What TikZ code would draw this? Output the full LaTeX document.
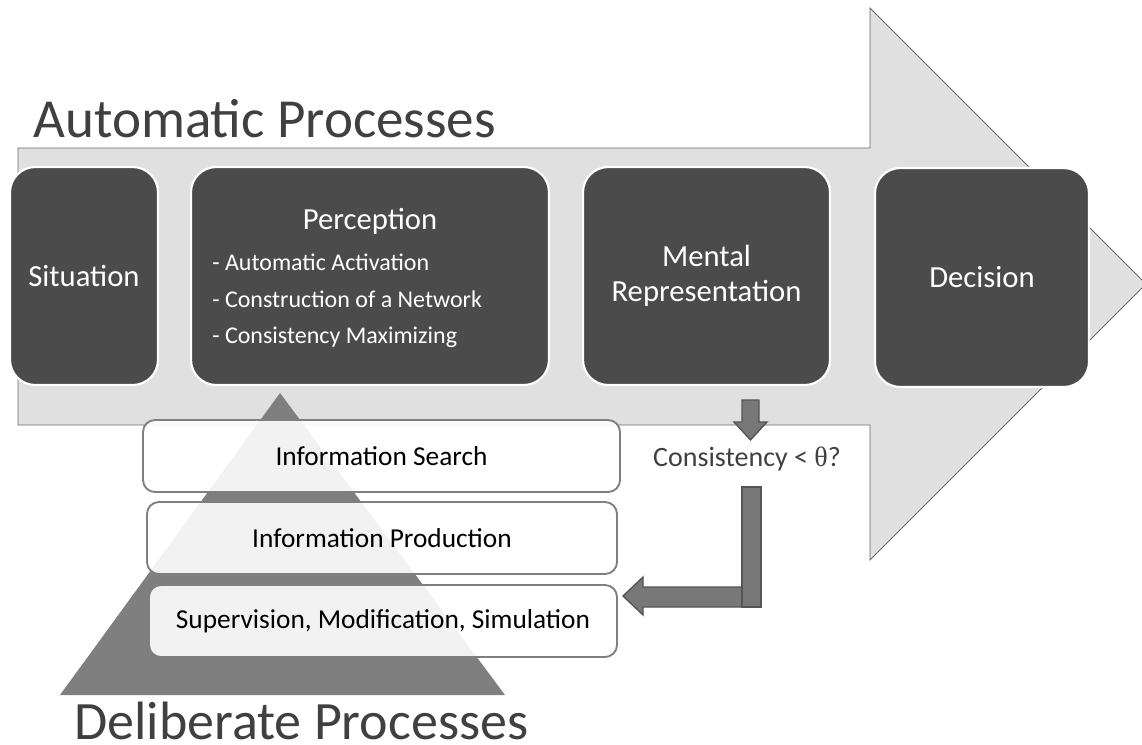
\documentclass[tikz,border=0pt]{standalone}
\usepackage{fontspec}
\setmainfont{Carlito}
\newfontfamily\thetafont{Liberation Serif}
\usetikzlibrary{fit}
\definecolor{boxdark}{HTML}{4B4B4B}
\definecolor{arrowbg}{HTML}{E0E0E0}
\definecolor{arrowedge}{HTML}{6A6A6A}
\definecolor{pyr}{HTML}{7F7F7F}
\definecolor{blockarrow}{HTML}{787878}
\definecolor{blockedge}{HTML}{555555}
\definecolor{titlegray}{HTML}{404040}
\begin{document}
\begin{tikzpicture}[x=0.75pt,y=-0.75pt,
  darkbox/.style={fill=boxdark, draw=white, line width=1.6pt, rounded corners=19pt, inner sep=0pt},
  darktext/.style={inner sep=0pt, text=white, font=\fontsize{23}{26}\selectfont, align=center},
  lightbox/.style={fill=white, fill opacity=0.9, draw=pyr, line width=1.4pt,
    rounded corners=9pt, inner sep=0pt},
  lighttext/.style={inner sep=0pt, text=black, font=\fontsize{20.5}{24}\selectfont},
  bullet/.style={anchor=base west, inner sep=0pt, text=white, font=\fontsize{18}{21}\selectfont},
  bigtitle/.style={anchor=base west, inner sep=0pt, text=titlegray},
  blockarr/.style={fill=blockarrow, draw=blockedge, line width=1pt, line join=miter},
  bigarrow/.style={fill=arrowbg, draw=arrowedge, line width=0.6pt}
]
\useasboundingbox (0,0) rectangle (1142,744);
\clip (0,0) rectangle (1142,744);

% big process arrow
\draw[bigarrow] (18,148) -- (870,148) -- (870,8) -- (1146,284) -- (870,560)
  -- (870,425) -- (18,425) -- cycle;

\node[bigtitle, font=\fontsize{41.3}{48}\selectfont] (auto) at (33,137) {Automatic Processes};

% dark process boxes
\node[darkbox, fit={(10,167) (158,385)}] (sit) {};
\node[darkbox, fit={(191,167) (549,385)}] (perc) {};
\node[darkbox, fit={(583,167) (830,385)}] (ment) {};
\node[darkbox, fit={(875,168) (1089,387)}] (dec) {};

\node[darktext] (sitt) at (sit.center) {Situation};
\node[darktext] (mentt) at (ment.center) {Mental\\Representation};
\node[darktext] (dect) at (dec.center) {Decision};

\node[darktext, anchor=base] (perct) at (370,229) {Perception};
\node[bullet] (b1) at (212,270) {- Automatic Activation};
\node[bullet] (b2) at (212,307) {- Construction of a Network};
\node[bullet] (b3) at (212,343) {- Consistency Maximizing};

% pyramid
\fill[pyr] (280,393) -- (505,695) -- (60,695) -- cycle;

\node[lightbox, fit={(143,420) (620,492)}] (search) {};
\node[lightbox, fit={(147,502) (617,574)}] (prod) {};
\node[lightbox, fit={(149,585) (617,657)}] (sup) {};
\node[lighttext] (searcht) at (search.center) {Information Search};
\node[lighttext] (prodt) at (prod.center) {Information Production};
\node[lighttext] (supt) at (sup.center) {Supervision, Modification, Simulation};

\node[bigtitle, text depth=0pt, font=\fontsize{40.5}{48}\selectfont] (delib) at (74,739) {Deliberate Processes};

% consistency check
\draw[blockarr] (742,400) -- (759,400) -- (759,422) -- (767,422) -- (750.5,440)
  -- (734,422) -- (742,422) -- cycle;
\node[inner sep=0pt, text=titlegray, font=\fontsize{21}{25}\selectfont] (cons) at (747,459)
  {Consistency < {\thetafont θ}?};

\draw[blockarr] (752,587) -- (643,587) -- (643,577) -- (623,596) -- (643,615)
  -- (643,607) -- (752,607) -- cycle;
\draw[blockarr] (742,487) rectangle (761,607);
\end{tikzpicture}
\end{document}
